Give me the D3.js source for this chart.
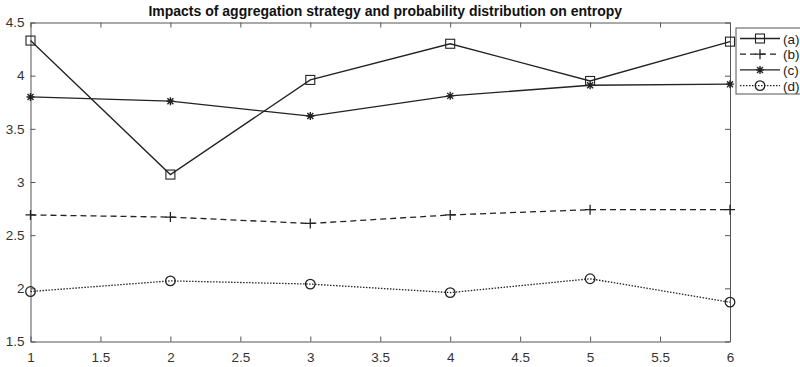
<!DOCTYPE html>
<html>
<head>
<meta charset="utf-8">
<script src="https://cdn.jsdelivr.net/npm/d3@7"></script>
<style>
  body { margin: 0; background: #fff; }
  text { font-family: "Liberation Sans", Arial, sans-serif; }
</style>
</head>
<body>
<script>
// data
var xs = [1, 2, 3, 4, 5, 6];
var seriesA = [4.33, 3.07, 3.96, 4.30, 3.95, 4.32];
var seriesB = [2.69, 2.67, 2.61, 2.69, 2.74, 2.74];
var seriesC = [3.80, 3.76, 3.62, 3.81, 3.91, 3.92];
var seriesD = [1.97, 2.07, 2.04, 1.96, 2.09, 1.87];
var labels = ["(a)", "(b)", "(c)", "(d)"];
var xTicks = [1, 1.5, 2, 2.5, 3, 3.5, 4, 4.5, 5, 5.5, 6];
var yTicks = [1.5, 2, 2.5, 3, 3.5, 4, 4.5];
var title = "Impacts of aggregation strategy and probability distribution on entropy";

var W = 800, H = 367;
var margin = {top: 22.5, right: 70, bottom: 25.5, left: 30.5},
    width = W - margin.left - margin.right,
    height = H - margin.top - margin.bottom;

var svg = d3.select("body")
  .append("svg")
    .attr("width", W)
    .attr("height", H);

var g = svg.append("g")
    .attr("transform", "translate(" + margin.left + "," + margin.top + ")");

var x = d3.scaleLinear().domain([1, 6]).range([0, width]);
var y = d3.scaleLinear().domain([1.5, 4.5]).range([height, 0]);

var axisColor = "#555";

// axes with inward ticks, boxed
g.append("g")
  .attr("transform", "translate(0," + height + ")")
  .call(d3.axisBottom(x).tickValues(xTicks).tickSizeInner(-5).tickSizeOuter(0).tickPadding(11)
    .tickFormat(d3.format("")));
g.append("g")
  .call(d3.axisTop(x).tickValues(xTicks).tickSizeInner(-5).tickSizeOuter(0).tickFormat(""));
g.append("g")
  .call(d3.axisLeft(y).tickValues(yTicks).tickSizeInner(-5).tickSizeOuter(0).tickPadding(6)
    .tickFormat(d3.format("")));
g.append("g")
  .attr("transform", "translate(" + width + ",0)")
  .call(d3.axisRight(y).tickValues(yTicks).tickSizeInner(-5).tickSizeOuter(0).tickFormat(""));

g.selectAll(".domain, .tick line").attr("stroke", axisColor).attr("stroke-width", 1);
g.selectAll(".tick text").attr("fill", "#333").style("font-size", "13.5px");

// title
svg.append("text")
  .attr("x", margin.left + width / 2 + 5)
  .attr("y", 16)
  .attr("text-anchor", "middle")
  .attr("font-weight", "bold")
  .style("font-size", "14px")
  .attr("fill", "#111")
  .text(title);

var series = [
  {name: labels[0], values: seriesA, dash: null, marker: "square"},
  {name: labels[1], values: seriesB, dash: "6,4", marker: "plus"},
  {name: labels[2], values: seriesC, dash: null, marker: "star"},
  {name: labels[3], values: seriesD, dash: "1.5,1.5", marker: "circle"}
];

var line = d3.line()
  .x(function(d, i) { return x(xs[i]); })
  .y(function(d) { return y(d); });

function drawMarker(sel, type) {
  var c = "#222";
  if (type === "square") {
    sel.append("rect").attr("x", -4.5).attr("y", -4.5).attr("width", 9).attr("height", 9)
      .attr("fill", "none").attr("stroke", c).attr("stroke-width", 1.1);
  } else if (type === "plus") {
    sel.append("path").attr("d", "M-5,0H5M0,-5V5").attr("stroke", c).attr("stroke-width", 1.3);
  } else if (type === "star") {
    sel.append("path").attr("d", "M-4,0H4M0,-4V4M-3,-3L3,3M-3,3L3,-3").attr("stroke", c).attr("stroke-width", 1.4);
  } else if (type === "circle") {
    sel.append("circle").attr("r", 4.8).attr("fill", "none").attr("stroke", c).attr("stroke-width", 1.3);
  }
}

series.forEach(function(s) {
  g.append("path")
    .datum(s.values)
    .attr("fill", "none")
    .attr("stroke", "#222")
    .attr("stroke-width", 1.3)
    .attr("stroke-dasharray", s.dash)
    .attr("d", line);

  g.selectAll(null)
    .data(s.values)
    .enter()
    .append("g")
      .attr("transform", function(d, i) { return "translate(" + x(xs[i]) + "," + y(d) + ")"; })
      .each(function() { drawMarker(d3.select(this), s.marker); });
});

// legend
var legend = svg.append("g").attr("transform", "translate(736,28)");
legend.append("rect")
  .attr("x", 0).attr("y", 0).attr("width", 70).attr("height", 66)
  .attr("fill", "#fff").attr("stroke", axisColor).attr("stroke-width", 1);

var item = legend.selectAll(".item")
  .data(series)
  .enter()
  .append("g")
    .attr("transform", function(d, i) { return "translate(0," + (10.5 + i * 15.7) + ")"; });

item.append("line")
  .attr("x1", 4).attr("x2", 44)
  .attr("stroke", "#222").attr("stroke-width", 1.3)
  .attr("stroke-dasharray", function(d) { return d.dash; });
item.append("g")
  .attr("transform", "translate(24,0)")
  .each(function(d) { drawMarker(d3.select(this), d.marker); });
item.append("text")
  .attr("x", 47).attr("y", 5)
  .style("font-size", "13.5px")
  .attr("fill", "#222")
  .text(function(d) { return d.name; });
</script>
</body>
</html>
